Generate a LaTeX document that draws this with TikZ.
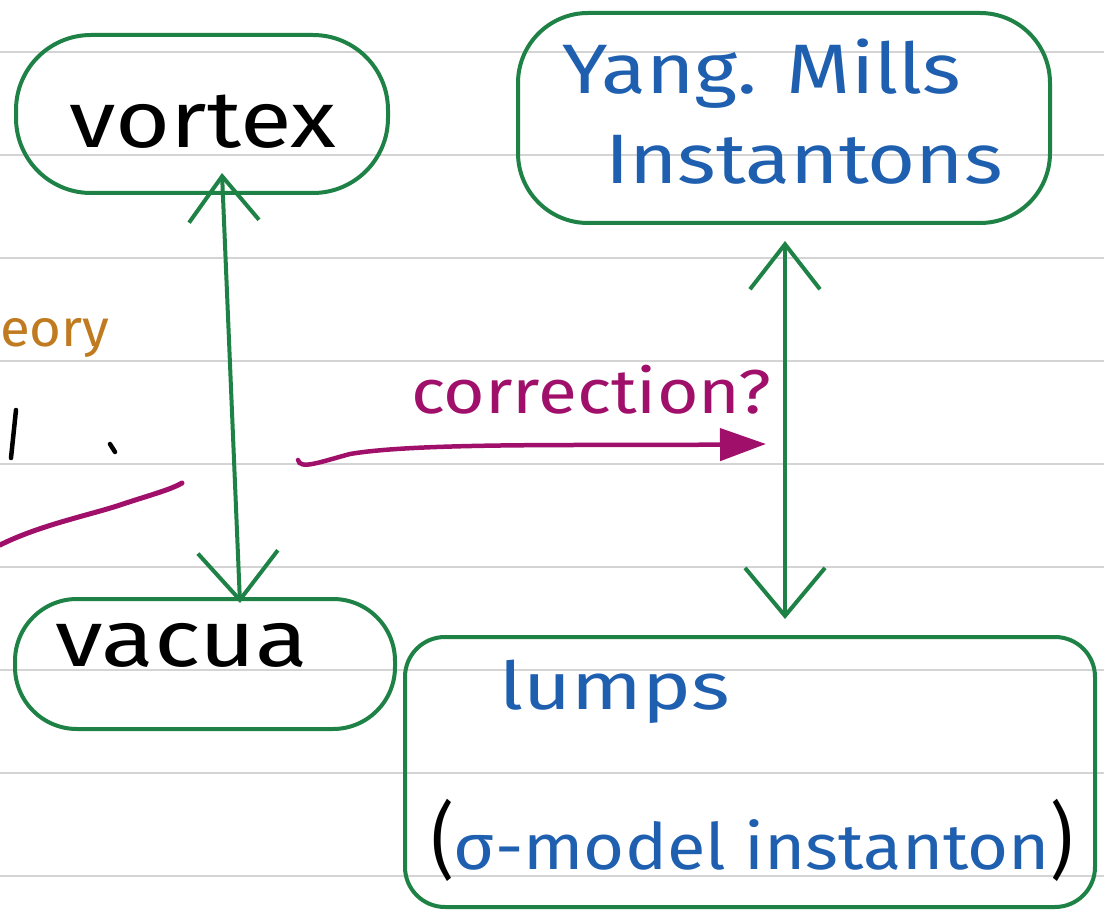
\documentclass[tikz,border=0pt]{standalone}
\usepackage{fontspec}
\setmainfont{Fira Sans}
\usetikzlibrary{arrows.meta,calc}
\definecolor{gr}{HTML}{1E8246}
\definecolor{bl}{HTML}{1F5FAF}
\definecolor{mg}{HTML}{A0106A}
\definecolor{br}{HTML}{C07A20}
\definecolor{rule}{HTML}{D4D4D4}
\newcommand{\hs}[2]{\scalebox{#1}[1]{#2}}
\tikzset{
  box/.style={draw=gr, line width=4pt, rounded corners=#1},
  dbl/.style={draw=gr, line width=4pt, line cap=round,
    {Straight Barb[length=45pt,width=70pt,line width=4pt]}-{Straight Barb[length=48pt,width=80pt,line width=4pt]}},
  corr/.style={draw=mg, line width=4.5pt, line cap=round, -{Triangle[length=46pt,width=32pt]}},
  txt/.style={inner sep=0pt, font=\fontsize{#1}{#1}\selectfont},
}
\begin{document}
\begin{tikzpicture}[x=1pt,y=-1pt]
\useasboundingbox (0,0) rectangle (1104,912);
\fill[white] (0,0) rectangle (1104,912);
\clip (0,0) rectangle (1104,912);
\foreach \yy in {52,155,258,361,464,567,670,773,876}
  \draw[rule, line width=1.5pt] (0,\yy) -- (1104,\yy);

% boxes
\node[box=75pt, minimum width=372pt, minimum height=158pt] (vortex) at (202,114) {};
\node[box=70pt, minimum width=532pt, minimum height=210pt] (yang) at (784,118) {};
\node[box=62pt, minimum width=380pt, minimum height=130pt] (vacua) at (205,664) {};
\node[box=40pt, minimum width=690pt, minimum height=270pt] (lumps) at (750,772) {};

% texts
\node[txt=80] (tvortex) at (203,122) {\hs{1.18}{vortex}};
\node[txt=70, text=bl] (tyang) at (762,74) {\hs{1.18}{Yang. Mills}};
\node[txt=70, text=bl] (tinst) at (804,160) {\hs{1.18}{Instantons}};
\node[txt=80] (tvacua) at (182,645) {\hs{1.21}{vacua}};
\node[txt=66, text=bl] (tlumps) at (615,692) {\hs{1.25}{lumps}};
\node[txt=64, text=bl] (tsigma) at (752,840) {\hs{1.1}{\textcolor{black}{\scalebox{1}[1.3]{(}}σ-model instanton\textcolor{black}{\scalebox{1}[1.3]{)}}}};
\node[txt=62, text=mg] (tcorr) at (591,390) {\hs{1.15}{correction?}};
\node[txt=52, text=br, anchor=west] (teory) at (0,338) {\hs{1.05}{eory}};

% fragments at left edge
\draw[black, line width=4.5pt, line cap=round] (16,410) -- (11,458);
\draw[black, line width=4.5pt, line cap=round] (110,444) -- (115,452);
\draw[mg, line width=5pt, line cap=round] (0,545) .. controls (40,525) and (90,515) .. (120,505) .. controls (150,495) and (170,490) .. (182,483);

% double arrows
\draw[dbl] ($(vortex.south)+(20,-22)$) -- ($(vacua.north)+(35,6)$);
\draw[dbl] ($(yang.south)+(1,16)$) -- ($(lumps.north)+(35,-16)$);

% correction arrow
\coordinate (cs) at (298,460);
\coordinate (ce) at (766,444);
\draw[corr] (cs) .. controls (300,470) and (320,462) .. (350,454) .. controls (420,442) and (600,446) .. (ce);
\end{tikzpicture}
\end{document}
